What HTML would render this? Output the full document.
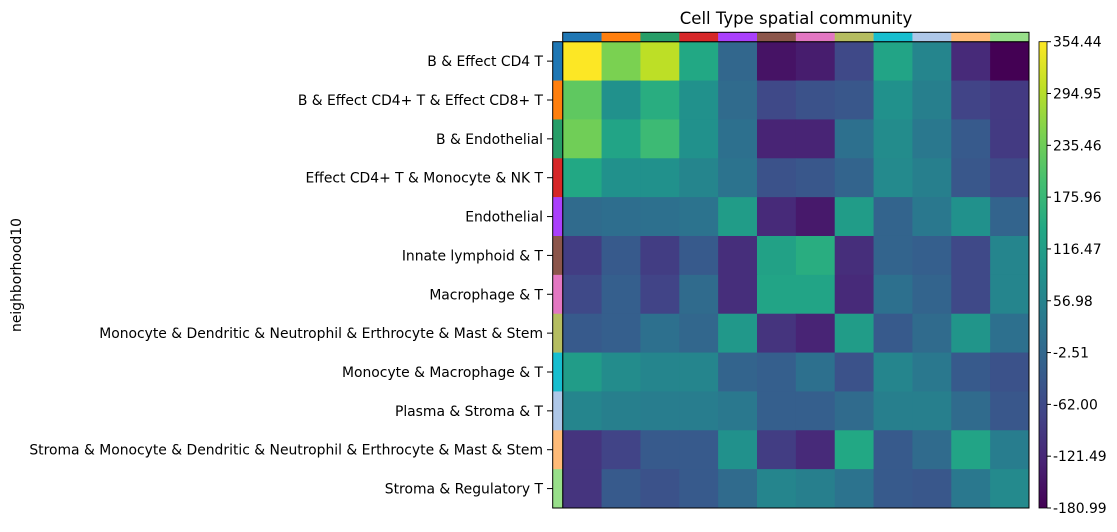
<!DOCTYPE html>
<html><head><meta charset="utf-8"><style>
body{margin:0;background:#fff;}
svg text{font-family:"DejaVu Sans","Liberation Sans",sans-serif;}
</style></head><body>
<svg id="chart" width="1117" height="527" xmlns="http://www.w3.org/2000/svg">
<text x="796" y="24" font-size="16.5" text-anchor="middle">Cell Type spatial community</text>
<text x="0" y="0" font-size="13.9" text-anchor="middle" transform="translate(21,275) rotate(-90)">neighborhood10</text>
<g id="cells"></g><g id="bars"></g><g id="labels"></g><g id="cbar"></g>
</svg>
<script>
const rows=["B & Effect CD4 T","B & Effect CD4+ T & Effect CD8+ T","B & Endothelial","Effect CD4+ T & Monocyte & NK T","Endothelial","Innate lymphoid & T","Macrophage & T","Monocyte & Dendritic & Neutrophil & Erthrocyte & Mast & Stem","Monocyte & Macrophage & T","Plasma & Stroma & T","Stroma & Monocyte & Dendritic & Neutrophil & Erthrocyte & Mast & Stem","Stroma & Regulatory T"];
const groupColors=["#1f77b4","#ff7f0e","#279e68","#d62728","#aa40fc","#8c564b","#e377c2","#b5bd61","#17becf","#aec7e8","#ffbb78","#98df8a"];
const values=[
[354,247,301,140,-4,-154,-138,-63,130,60,-117,-181],
[221,87,151,87,6,-63,-47,-36,87,49,-74,-90],
[237,130,183,87,17,-127,-127,17,76,33,-31,-90],
[140,87,87,60,22,-47,-36,-10,71,49,-36,-63],
[6,12,17,22,113,-117,-144,113,-10,33,87,-10],
[-85,-31,-85,-31,-111,124,151,-111,-10,-20,-63,60],
[-63,-20,-74,6,-111,130,130,-117,17,-10,-63,60],
[-31,-20,17,-4,103,-101,-127,113,-31,6,97,17],
[113,76,60,60,-10,-20,17,-47,60,33,-31,-47],
[60,49,44,44,33,-20,-20,6,49,49,6,-36],
[-101,-74,-31,-31,87,-85,-117,140,-31,6,130,44],
[-101,-31,-47,-31,6,60,49,22,-31,-36,33,71]];
const cbTicks=["354.44","294.95","235.46","175.96","116.47","56.98","-2.51","-62.00","-121.49","-180.99"];
const vmin=-180.99,vmax=354.44;
const stops=["#440154","#482475","#414487","#355f8d","#2a788e","#21918c","#22a884","#44bf70","#7ad151","#bddf26","#fde725"];
function hex(h){return[1,3,5].map(i=>parseInt(h.substr(i,2),16));}
function viridis(t){t=Math.max(0,Math.min(1,t));const f=t*10,i=Math.min(9,Math.floor(f)),r=f-i;const a=hex(stops[i]),b=hex(stops[i+1]);return`rgb(${a.map((v,k)=>Math.round(v+(b[k]-v)*r)).join(',')})`;}
const X0=562.7,X1=1029,Y0=41.7,Y1=508;
const n=12,cw=(X1-X0)/n,ch=(Y1-Y0)/n;
const xs=c=>X0+c*cw, ys=r=>Y0+r*ch;
const NS="http://www.w3.org/2000/svg";
function mk(t,a,p){const e=document.createElementNS(NS,t);for(const k in a)e.setAttribute(k,a[k]);document.getElementById(p).appendChild(e);return e;}
values.forEach((row,r)=>row.forEach((v,c)=>{
 const e=mk('rect',{x:xs(c),y:ys(r),width:cw+0.5,height:ch+0.5,fill:viridis((v-vmin)/(vmax-vmin))},'cells');
 
 
}));
mk('rect',{x:X0,y:Y0,width:X1-X0,height:Y1-Y0,fill:'none',stroke:'#000','stroke-width':1},'cells');
groupColors.forEach((col,i)=>{
 const t=mk('rect',{x:xs(i),y:32.3,width:cw+0.3,height:9.4,fill:col},'bars');
 
 
 const l=mk('rect',{x:552.7,y:ys(i),width:10,height:ch+0.3,fill:col},'bars');
 
 
});
mk('rect',{x:X0,y:32.3,width:X1-X0,height:9.4,fill:'none',stroke:'#000','stroke-width':1},'bars');
mk('rect',{x:552.7,y:Y0,width:10,height:Y1-Y0,fill:'none',stroke:'#000','stroke-width':1},'bars');
mk('line',{x1:552.7,x2:X1,y1:Y1,y2:Y1,stroke:'#000'},'bars');
rows.forEach((lab,i)=>{
 const y=ys(i)+ch/2;
 mk('line',{x1:547,x2:552.7,y1:y,y2:y,stroke:'#000'},'labels');
 const t=mk('text',{x:543,y:y+5,'font-size':13.9,'text-anchor':'end'},'labels');
 t.textContent=lab;
 
 
});
const CX=1039,CW=8;
const g=mk('defs',{},'cbar');const lg=mk('linearGradient',{id:'vg',x1:0,y1:1,x2:0,y2:0},'cbar');g.appendChild(lg);
stops.forEach((s,i)=>{const st=document.createElementNS(NS,'stop');st.setAttribute('offset',i/10);st.setAttribute('stop-color',s);lg.appendChild(st);});
const cb=mk('rect',{x:CX,y:Y0,width:CW,height:Y1-Y0,fill:'url(#vg)',stroke:'#000','stroke-width':0.8},'cbar');


cbTicks.forEach((s,i)=>{
 const v=parseFloat(s);const y=Y1-(v-vmin)/(vmax-vmin)*(Y1-Y0);
 mk('line',{x1:CX+CW,x2:CX+CW+4,y1:y,y2:y,stroke:'#000'},'cbar');
 const t=mk('text',{x:CX+CW+6,y:y+5,'font-size':13.9},'cbar');
 t.textContent=s;
 
 
});
</script>
</body></html>
